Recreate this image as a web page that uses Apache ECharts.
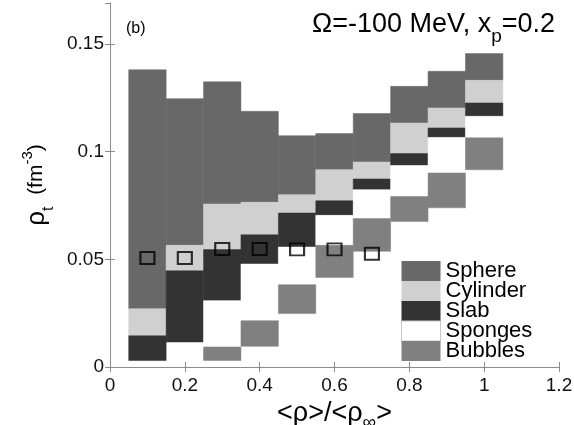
<!DOCTYPE html>
<html>
<head>
<meta charset="utf-8">
<script src="https://cdn.jsdelivr.net/npm/echarts@6/dist/echarts.min.js"></script>
<style>
  html, body { margin: 0; padding: 0; background: #fff; }
  #chart { width: 574px; height: 425px; }
</style>
</head>
<body>
<div id="chart"></div>
<script>
// column centres on the <rho>/<rho_inf> axis, each column 0.1 wide
const columnX = [0.1, 0.2, 0.3, 0.4, 0.5, 0.6, 0.7, 0.8, 0.9, 1.0]
// phase boundaries (fm^-3), top to bottom
const sphereTop      = [0.138, 0.1246, 0.1324, 0.1187, 0.1074, 0.1084, 0.1177, 0.1303, 0.1373, 0.1455]
const cylinderTop    = [0.027, 0.0565, 0.0757, 0.0765, 0.080, 0.0916, 0.0952, 0.1133, 0.1203, 0.1331]
const slabTop        = [0.0145, 0.0447, 0.0545, 0.0614, 0.0715, 0.0772, 0.0873, 0.0991, 0.111, 0.1226]
const slabBottom     = [0.003, 0.0116, 0.0308, 0.0478, 0.0557, 0.0704, 0.0823, 0.0935, 0.1066, 0.1164]
const bubblesTop     = [null, null, 0.0093, 0.0215, 0.0382, 0.0565, 0.0689, 0.0792, 0.0901, 0.1064]
const bubblesBottom  = [null, null, 0.003, 0.0096, 0.0248, 0.0416, 0.0537, 0.0676, 0.0739, 0.0916]

// open square markers
const markerX = [0.1, 0.2, 0.3, 0.4, 0.5, 0.6, 0.7]
const markerY = [0.0506, 0.0506, 0.0548, 0.0548, 0.0546, 0.0546, 0.0526]

const phaseNames = ['Sphere', 'Cylinder', 'Slab', 'Sponges', 'Bubbles']
const phaseColors = ['#686868', '#d0d0d0', '#333333', '#ffffff', '#808080']

const colWidth = 0.1

// build [x, low, high] items for one phase
const band = (lows, highs) => columnX
  .map((x, i) => [x, lows[i], highs[i]])
  .filter(d => d[1] != null && d[2] != null)

const phaseData = [
  band(cylinderTop, sphereTop),
  band(slabTop, cylinderTop),
  band(slabBottom, slabTop),
  band(bubblesTop, slabBottom),
  band(bubblesBottom, bubblesTop)
]

const renderBlock = (params, api) => {
  const x = api.value(0)
  const p0 = api.coord([x - colWidth / 2, api.value(2)])
  const p1 = api.coord([x + colWidth / 2, api.value(1)])
  const color = api.visual('color')
  return {
    type: 'rect',
    shape: { x: p0[0], y: p0[1], width: p1[0] - p0[0], height: p1[1] - p0[1] },
    style: { fill: color, stroke: color, lineWidth: 0.5 }
  }
}

const chart = echarts.init(document.getElementById('chart'))

const fontFamily = 'Liberation Sans, Arial, sans-serif'
const frameColor = '#8c8c8c'
const txt = (fontSize, extra) => Object.assign(
  { fontSize, color: '#000', fontFamily, fontWeight: 'normal', verticalAlign: 'top' }, extra)

const option = {
  animation: false,
  textStyle: { fontFamily },
  title: [
    {
      text: '(b)',
      left: 126,
      top: 21,
      padding: 0,
      textStyle: { fontSize: 16, fontWeight: 'normal', color: '#000', lineHeight: 16 }
    },
    {
      text: '{a|Ω=-100 MeV, x}{s|p}{a|=0.2}',
      right: 19,
      top: 11,
      padding: 0,
      textStyle: {
        fontWeight: 'normal',
        rich: {
          a: txt(27),
          s: txt(19, { padding: [16, 0, 0, 0] })
        }
      }
    }
  ],
  legend: {
    orient: 'vertical',
    left: 401,
    top: 260,
    padding: 0,
    itemGap: -2,
    itemWidth: 39,
    itemHeight: 20,
    icon: 'rect',
    selectedMode: false,
    data: phaseNames.map(n => n === 'Sponges'
      ? { name: n, itemStyle: { borderColor: '#c8c8c8', borderWidth: 1 } }
      : { name: n }),
    textStyle: { fontSize: 22, lineHeight: 19.5, color: '#000', fontFamily }
  },
  grid: { left: 110, right: 15, top: 3, bottom: 58, containLabel: false, outerBoundsMode: 'none' },
  xAxis: [
    {
      type: 'value',
      min: 0,
      max: 1.2,
      interval: 0.2,
      name: '{a|<ρ>/<ρ}{s|∞}{a|>}',
      nameLocation: 'middle',
      nameGap: 27,
      nameTextStyle: {
        rich: {
          a: txt(27),
          s: txt(19, { padding: [13, 0, 0, 0] })
        }
      },
      axisLine: { lineStyle: { color: frameColor, width: 1 } },
      axisTick: { inside: true, length: 5, lineStyle: { color: frameColor } },
      axisLabel: { fontSize: 19, color: '#111', margin: 9 },
      splitLine: { show: false }
    },
    {
      type: 'value',
      position: 'top',
      min: 0,
      max: 1.2,
      interval: 0.2,
      axisLine: { show: true, lineStyle: { color: frameColor, width: 1 } },
      axisTick: { show: true, inside: true, length: 5, lineStyle: { color: frameColor } },
      axisLabel: { show: false },
      splitLine: { show: false }
    }
  ],
  yAxis: [
    {
      type: 'value',
      min: 0,
      max: 0.169,
      interval: 0.05,
      name: '{r|ρ}{t|t}{f|  (fm}{e|-3}{f|)}',
      nameLocation: 'middle',
      nameRotate: 90,
      nameGap: 52,
      nameTextStyle: {
        rich: {
          r: txt(26, { padding: [4, 0, 0, 0] }),
          t: txt(16, { padding: [20, 0, 0, 0] }),
          f: txt(21, { padding: [6, 0, 0, 0] }),
          e: txt(15)
        }
      },
      axisLine: { show: true, lineStyle: { color: frameColor, width: 1 } },
      axisTick: { show: true, inside: true, length: 5, lineStyle: { color: frameColor } },
      axisLabel: { fontSize: 19, color: '#111', margin: 6, showMaxLabel: false },
      splitLine: { show: false }
    },
    {
      type: 'value',
      position: 'right',
      min: 0,
      max: 0.169,
      interval: 0.05,
      axisLine: { show: true, lineStyle: { color: frameColor, width: 1 } },
      axisTick: { show: true, inside: true, length: 5, lineStyle: { color: frameColor } },
      axisLabel: { show: false },
      splitLine: { show: false }
    }
  ],
  series: [
    ...phaseNames.map((name, i) => ({
      name,
      type: 'custom',
      renderItem: renderBlock,
      itemStyle: { color: phaseColors[i] },
      encode: { x: 0, y: [1, 2] },
      data: phaseData[i],
      z: 2
    })),
    {
      name: 'markers',
      type: 'scatter',
      symbol: 'rect',
      symbolSize: [14, 12],
      itemStyle: { color: 'rgba(0,0,0,0)', borderColor: '#000', borderWidth: 2 },
      data: markerX.map((x, i) => [x, markerY[i]]),
      z: 5
    }
  ]
}

chart.setOption(option)
</script>
</body>
</html>
